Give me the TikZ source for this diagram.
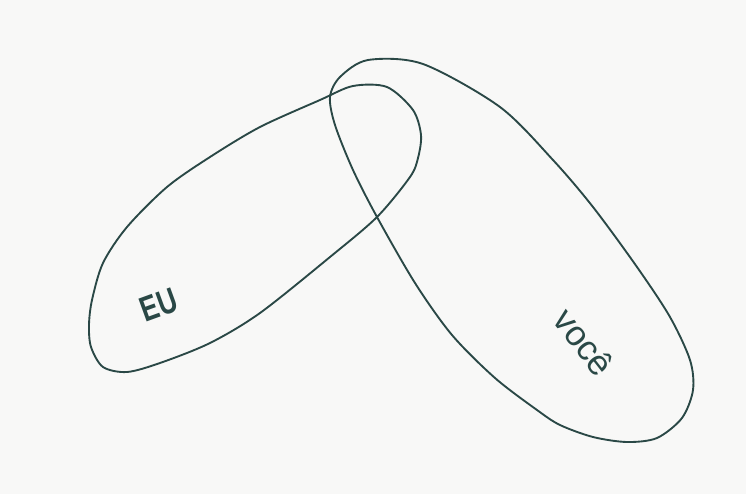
\documentclass[tikz,border=0pt]{standalone}
\usepackage{fontspec}
\setsansfont{Liberation Sans}
\usepackage{graphicx}
\usepackage{tikz}

\definecolor{ink}{RGB}{42,72,70}
\definecolor{paper}{RGB}{248,248,247}

\begin{document}
\begin{tikzpicture}[
        x=0.03cm, y=-0.03cm,
        loop/.style={ink, line width=1.6pt, line join=round},
        tag/.style={text=ink, inner sep=0pt, font=\sffamily\fontsize{30}{30}\selectfont},
    ]
        % Paper
        \fill[paper] (0,0) rectangle (746,494);
        \useasboundingbox (0,0) rectangle (746,494);

        % EU loop
        \draw[loop] plot[smooth cycle] coordinates {
            (353,86) (387,87) (413,110) (421,135) (418,158) (410,177)
            (377,217) (330,257) (260,313) (210,343) (160,363) (127,372)
            (103,367) (91,347) (89,325) (92,300) (103,263) (127,227)
            (167,187) (210,157) (260,127) (320,100)};

        % Voce loop
        \draw[loop] plot[smooth cycle] coordinates {
            (368,60) (423,64) (500,107) (553,160) (593,207) (637,267)
            (670,317) (690,360) (693,390) (682,418) (657,438) (627,442)
            (593,437) (560,425) (537,410) (495,378) (452,335) (415,283)
            (377,217) (353,170) (335,125) (330,97) (340,77)};

        % Labels
        \node[tag, rotate=20] (eu) at (159,305) {\scalebox{0.75}[1]{\bfseries EU}};
        \node[tag, rotate=-52] (voce) at (584,342) {você};
\end{tikzpicture}
\end{document}
